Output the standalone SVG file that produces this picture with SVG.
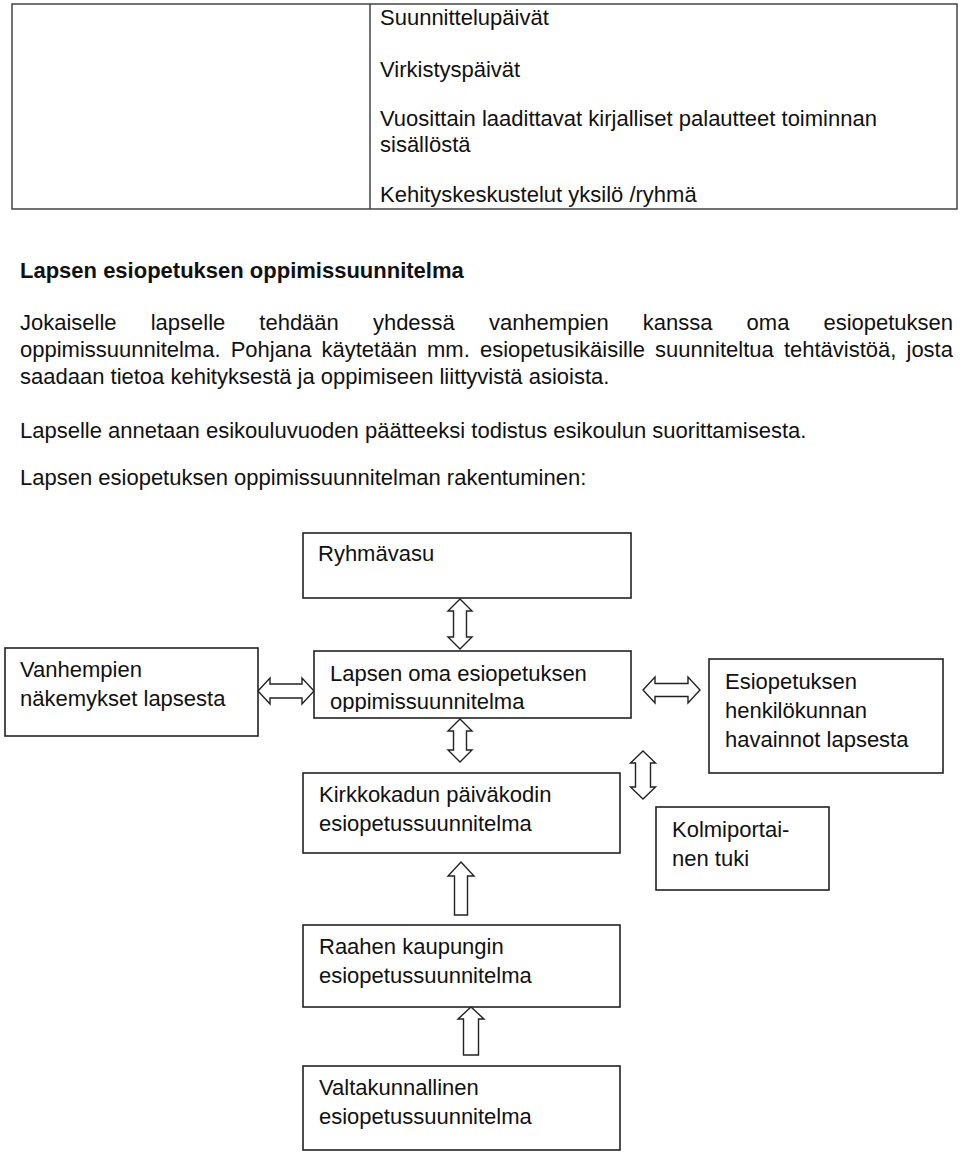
<svg xmlns="http://www.w3.org/2000/svg" width="960" height="1154" viewBox="0 0 960 1154">
<style>
text{font-family:"Liberation Sans",Arial,sans-serif;font-size:22px;fill:#111}
.b{font-weight:bold}
.tbl{fill:none;stroke:#444;stroke-width:1.5}
.box{fill:#fff;stroke:#222;stroke-width:1.6}
.arr{fill:#fff;stroke:#222;stroke-width:1.4;stroke-linejoin:miter}
</style>
<defs>
<clipPath id="clipOma"><rect x="315" y="652" width="315" height="60"/></clipPath>
</defs>
<rect width="960" height="1154" fill="#fff"/>
<g id="table">
<rect class="tbl" x="12" y="4" width="945" height="205"/>
<line class="tbl" x1="370" y1="4" x2="370" y2="209"/>
<text x="380" y="25">Suunnittelupäivät</text>
<text x="380" y="77">Virkistyspäivät</text>
<text x="380" y="126">Vuosittain laadittavat kirjalliset palautteet toiminnan</text>
<text x="380" y="152">sisällöstä</text>
<text x="380" y="202">Kehityskeskustelut yksilö /ryhmä</text>
</g>
<g id="body">
<text class="b" x="20" y="278">Lapsen esiopetuksen oppimissuunnitelma</text>
<text y="330"><tspan x="20">Jokaiselle</tspan><tspan x="150.7">lapselle</tspan><tspan x="259.3">tehdään</tspan><tspan x="372.9">yhdessä</tspan><tspan x="488.9">vanhempien</tspan><tspan x="642.8">kanssa</tspan><tspan x="746.6">oma</tspan><tspan x="823.4">esiopetuksen</tspan></text>
<text y="357"><tspan x="20">oppimissuunnitelma.</tspan><tspan x="230.7">Pohjana</tspan><tspan x="321.5">käytetään</tspan><tspan x="427">mm.</tspan><tspan x="480">esiopetusikäisille</tspan><tspan x="655.1">suunniteltua</tspan><tspan x="783.9">tehtävistöä,</tspan><tspan x="906.5">josta</tspan></text>
<text x="20" y="384">saadaan tietoa kehityksestä ja oppimiseen liittyvistä asioista.</text>
<text x="20" y="438">Lapselle annetaan esikouluvuoden päätteeksi todistus esikoulun suorittamisesta.</text>
<text x="20" y="485">Lapsen esiopetuksen oppimissuunnitelman rakentuminen:</text>
</g>
<g id="connectors">
<path class="arr" d="M460,599 L472,611 L466.5,611 L466.5,637 L472,637 L460,649 L448,637 L453.5,637 L453.5,611 L448,611 Z"/>
<path class="arr" d="M460,719 L472,731 L466.5,731 L466.5,750 L472,750 L460,762 L448,750 L453.5,750 L453.5,731 L448,731 Z"/>
<path class="arr" d="M258,691 L270,678 L270,684 L302,684 L302,678 L314,691 L302,704 L302,698 L270,698 L270,704 Z"/>
<path class="arr" d="M643,690 L655,677 L655,683.5 L688,683.5 L688,677 L700,690 L688,703 L688,696.5 L655,696.5 L655,703 Z"/>
<path class="arr" d="M643,751 L655.5,763 L650.5,763 L650.5,787 L655.5,787 L643,799 L630.5,787 L635.5,787 L635.5,763 L630.5,763 Z"/>
<path class="arr" d="M461,862 L474,876 L467.5,876 L467.5,915 L454.5,915 L454.5,876 L448,876 Z"/>
<path class="arr" d="M471,1007 L484,1019 L478.5,1019 L478.5,1055 L463.5,1055 L463.5,1019 L458,1019 Z"/>
</g>
<g id="ryhmavasu">
<rect class="box" x="303" y="533" width="328" height="65"/>
<text x="318" y="561">Ryhmävasu</text>
</g>
<g id="vanhempien">
<rect class="box" x="5" y="648" width="253" height="88"/>
<text x="20" y="677">Vanhempien</text>
<text x="20" y="706">näkemykset lapsesta</text>
</g>
<g id="lapsen-oma">
<rect class="box" x="314" y="651" width="317" height="67"/>
<g clip-path="url(#clipOma)">
<text x="330" y="681">Lapsen oma esiopetuksen</text>
<text x="330" y="709">oppimissuunnitelma</text>
</g>
</g>
<g id="henkilokunta">
<rect class="box" x="709" y="659" width="234" height="114"/>
<text x="725" y="689">Esiopetuksen</text>
<text x="725" y="718">henkilökunnan</text>
<text x="725" y="747">havainnot lapsesta</text>
</g>
<g id="kirkkokadun">
<rect class="box" x="303" y="773" width="317" height="80"/>
<text x="319" y="802">Kirkkokadun päiväkodin</text>
<text x="319" y="831">esiopetussuunnitelma</text>
</g>
<g id="kolmiportainen">
<rect class="box" x="656" y="807" width="173" height="83"/>
<text x="672" y="837">Kolmiportai-</text>
<text x="672" y="866">nen tuki</text>
</g>
<g id="raahen">
<rect class="box" x="303" y="925" width="317" height="82"/>
<text x="319" y="954">Raahen kaupungin</text>
<text x="319" y="983">esiopetussuunnitelma</text>
</g>
<g id="valtakunnallinen">
<rect class="box" x="303" y="1066" width="317" height="84"/>
<text x="319" y="1095">Valtakunnallinen</text>
<text x="319" y="1124">esiopetussuunnitelma</text>
</g>
</svg>
